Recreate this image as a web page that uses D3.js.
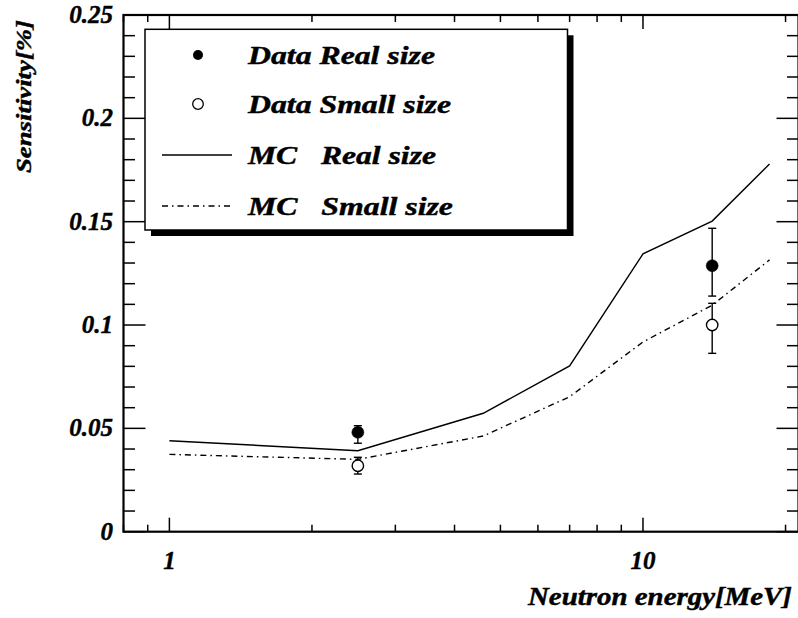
<!DOCTYPE html>
<html><head><meta charset="utf-8">
<script src="https://cdnjs.cloudflare.com/ajax/libs/d3/7.8.5/d3.min.js"></script>
<style>body{margin:0;background:#fff}svg{display:block}</style>
</head><body><svg id="c" width="798" height="618"></svg>
<script>
// MC curves
const mcEnergy = [1, 2.5, 4.6, 7, 10, 14, 18.5];
const mcReal   = [0.0440, 0.0392, 0.0573, 0.0802, 0.1344, 0.1503, 0.1779];
const mcSmall  = [0.0374, 0.0350, 0.0463, 0.0653, 0.0918, 0.1096, 0.1315];
// Measured data
const dataEnergy = [2.5, 14];
const dataReal   = [0.0481, 0.1287];
const dataRealLo = [0.0428, 0.1140];
const dataRealHi = [0.0513, 0.1468];
const dataSmall   = [0.0319, 0.1000];
const dataSmallLo = [0.0279, 0.0863];
const dataSmallHi = [0.0360, 0.1105];
const yTicks = [0, 0.05, 0.1, 0.15, 0.2, 0.25];
const yTickLabels = ["0", "0.05", "0.1", "0.15", "0.2", "0.25"];
const xTicks = [1, 10];
const xTickLabels = ["1", "10"];
const legendLabels = ["Data Real size", "Data Small size", "MC   Real size", "MC   Small size"];

const FONT = "Liberation Serif";
const svg = d3.select("#c");
function txt(sel) {
  return sel.append("text").attr("font-family", FONT).attr("font-weight", "bold").attr("font-style", "italic")
    .attr("fill", "#000").attr("stroke", "#000").attr("stroke-width", 0.45);
}
const L = 123.5, R = 798.5, T = 15, B = 531.7;
const x = d3.scaleLog().domain([0.8, 21.3]).range([L, R]);
const y = d3.scaleLinear().domain([0, 0.25]).range([B, T]);

// minor ticks
const xMinor = [0.8, 0.9, 2, 3, 4, 5, 6, 7, 8, 9, 20];
const yMinor = d3.range(0, 0.2501, 0.01).filter(v => Math.abs(v / 0.05 - Math.round(v / 0.05)) > 1e-6);

const g = svg.append("g");
function tick(x1, y1, x2, y2) {
  g.append("line").attr("x1", x1).attr("x2", x2).attr("y1", y1).attr("y2", y2).attr("stroke", "#000").attr("stroke-width", 1.5);
}
xMinor.forEach(v => { tick(x(v), B, x(v), B - 7); tick(x(v), T, x(v), T + 7); });
xTicks.forEach(v => { tick(x(v), B, x(v), B - 14); tick(x(v), T, x(v), T + 14); });
yMinor.forEach(v => { tick(L, y(v), L + 11.5, y(v)); tick(R, y(v), R - 11.5, y(v)); });
yTicks.forEach(v => { tick(L, y(v), L + 22, y(v)); tick(R, y(v), R - 22, y(v)); });
// frame
svg.append("rect").attr("x", L).attr("y", T).attr("width", R - L).attr("height", B - T)
  .attr("fill", "none").attr("stroke", "#000").attr("stroke-width", 2.2);

// tick labels
yTicks.forEach((v, i) => {
  txt(svg).attr("x", 113).attr("y", y(v) + 8).attr("text-anchor", "end")
    .attr("font-size", 25).text(yTickLabels[i]);
});
xTicks.forEach((v, i) => {
  txt(svg).attr("x", x(v)).attr("y", 569).attr("text-anchor", "middle")
    .attr("font-size", 25).text(xTickLabels[i]);
});
// axis titles
txt(svg).attr("x", 792).attr("y", 605).attr("text-anchor", "end").attr("font-size", 25)
  .attr("textLength", 264).attr("lengthAdjust", "spacingAndGlyphs").text("Neutron energy[MeV]");
txt(svg).attr("transform", "translate(31,173) rotate(-90)").attr("text-anchor", "start").attr("font-size", 22)
  .attr("textLength", 153).attr("lengthAdjust", "spacingAndGlyphs").text("Sensitivity[%]");

// MC lines
const line = d3.line().x(d => x(d[0])).y(d => y(d[1]));
svg.append("path").attr("d", line(mcEnergy.map((e, i) => [e, mcReal[i]])))
  .attr("fill", "none").attr("stroke", "#000").attr("stroke-width", 1.4);
svg.append("path").attr("d", line(mcEnergy.map((e, i) => [e, mcSmall[i]])))
  .attr("fill", "none").attr("stroke", "#000").attr("stroke-width", 1.4).attr("stroke-dasharray", "6,4,1.5,4");

// error bars + markers
function drawSeries(vals, lo, hi, filled) {
  dataEnergy.forEach((e, i) => {
    const cx = x(e);
    svg.append("line").attr("x1", cx).attr("x2", cx).attr("y1", y(lo[i])).attr("y2", y(hi[i])).attr("stroke", "#000").attr("stroke-width", 1.4);
    [lo[i], hi[i]].forEach(v => svg.append("line").attr("x1", cx - 4).attr("x2", cx + 4).attr("y1", y(v)).attr("y2", y(v)).attr("stroke", "#000").attr("stroke-width", 1.4));
  });
  dataEnergy.forEach((e, i) => {
    svg.append("circle").attr("cx", x(e)).attr("cy", y(vals[i])).attr("r", filled ? 6 : 5.7)
      .attr("fill", filled ? "#000" : "#fff").attr("stroke", "#000").attr("stroke-width", filled ? 0.5 : 1.4);
  });
}
drawSeries(dataReal, dataRealLo, dataRealHi, true);
drawSeries(dataSmall, dataSmallLo, dataSmallHi, false);

// legend
const lg = svg.append("g");
lg.append("rect").attr("x", 151).attr("y", 35.3).attr("width", 422.5).attr("height", 200.7).attr("fill", "#000");
lg.append("rect").attr("x", 145).attr("y", 29.3).attr("width", 422.5).attr("height", 200.7).attr("fill", "#fff").attr("stroke", "#000").attr("stroke-width", 1.5);
const rowsY = [55, 104, 155, 206];
const textW = [187, 203, 188, 205];
lg.append("circle").attr("cx", 198).attr("cy", rowsY[0]).attr("r", 5).attr("fill", "#000");
lg.append("circle").attr("cx", 198).attr("cy", rowsY[1]).attr("r", 5.3).attr("fill", "#fff").attr("stroke", "#000").attr("stroke-width", 1.3);
lg.append("line").attr("x1", 162).attr("x2", 232).attr("y1", rowsY[2]).attr("y2", rowsY[2]).attr("stroke", "#000").attr("stroke-width", 1.4);
lg.append("line").attr("x1", 162).attr("x2", 232).attr("y1", rowsY[3]).attr("y2", rowsY[3]).attr("stroke", "#000").attr("stroke-width", 1.4).attr("stroke-dasharray", "6,4,1.5,4");
legendLabels.forEach((t, i) => {
  txt(lg).attr("x", 248).attr("y", rowsY[i] + 9).attr("font-size", 25)
    .attr("xml:space", "preserve").style("white-space", "pre")
    .attr("textLength", textW[i]).attr("lengthAdjust", "spacingAndGlyphs").text(t);
});
</script></body></html>
